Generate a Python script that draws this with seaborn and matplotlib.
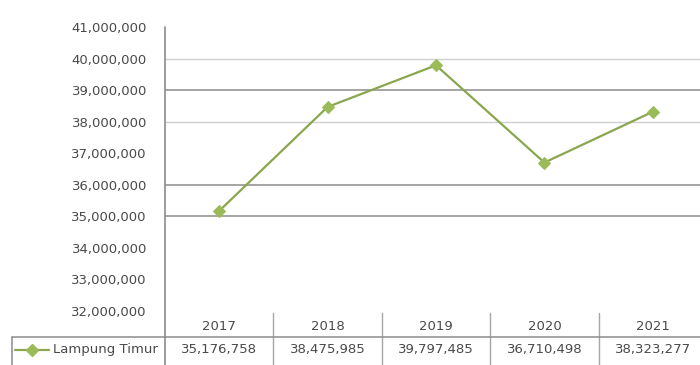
import pandas as pd
import matplotlib.pyplot as plt
from matplotlib.lines import Line2D
from matplotlib.transforms import blended_transform_factory
import seaborn as sns

# Data
years = ["2017", "2018", "2019", "2020", "2021"]
values = [35176758, 38475985, 39797485, 36710498, 38323277]
series_name = "Lampung Timur"
y_ticks = [32000000, 33000000, 34000000, 35000000, 36000000,
           37000000, 38000000, 39000000, 40000000, 41000000]
grid_dark = [35000000, 36000000, 39000000]
grid_light = [38000000, 40000000]

df = pd.DataFrame({"Tahun": years, "Nilai": values})

sns.set_style("white")
plt.rcParams["font.family"] = ["DejaVu Sans"]

W, H = 700, 365
fig = plt.figure(figsize=(W / 100, H / 100), dpi=100)
ax_left, ax_right, ax_top, ax_bot = 165, 707, 27.4, 311
ax = fig.add_axes([ax_left / W, 1 - ax_bot / H,
                   (ax_right - ax_left) / W, (ax_bot - ax_top) / H])

line_col = "#8aa64f"
mark_col = "#9BBB59"
text_col = "#4a4a4a"
table_col = "#a6a6a6"
fs = 9.5

for v in grid_dark:
    ax.axhline(v, color="#8c8c8c", lw=1.1, zorder=1)
for v in grid_light:
    ax.axhline(v, color="#d0d0d0", lw=1.0, zorder=1)

sns.lineplot(data=df, x="Tahun", y="Nilai", ax=ax, color=line_col, lw=1.6,
             marker="D", markersize=6, markerfacecolor=mark_col,
             markeredgecolor=mark_col, zorder=3)

ax.set_xlim(-0.5, 4.5)
ax.set_ylim(y_ticks[0], y_ticks[-1])
ax.set_yticks(y_ticks)
ax.set_yticklabels([f"{t:,}" for t in y_ticks], fontsize=fs, color=text_col)
ax.tick_params(axis="y", length=0, pad=13)
ax.set_xticks([])
ax.set_xlabel("")
ax.set_ylabel("")
for s in ax.spines.values():
    s.set_visible(False)

# y axis line, running down through the data table
ax.axvline(-0.5, ymin=-0.25, ymax=1, color="#8c8c8c", lw=1.2, clip_on=False)


def fy(py):
    # pixel row -> axes fraction
    return (ax_bot - py) / (ax_bot - ax_top)


trans = blended_transform_factory(ax.transData, ax.transAxes)

# data table: year header, values, cell dividers
for i, (yr, v) in enumerate(zip(years, values)):
    ax.text(i, fy(327), yr, transform=trans, ha="center", va="center",
            fontsize=fs, color=text_col, clip_on=False)
    ax.text(i, fy(349), f"{v:,}", transform=trans, ha="center", va="center",
            fontsize=fs, color=text_col, clip_on=False)
    ax.axvline(i + 0.5, ymin=fy(372), ymax=fy(313), color=table_col,
               lw=1.0, clip_on=False)

# row separator and legend cell
fig.add_artist(Line2D([12 / W, 1.0], [1 - 337 / H] * 2,
                      transform=fig.transFigure, color="#8c8c8c", lw=1.1))
fig.add_artist(Line2D([12 / W, 12 / W], [1 - 337 / H, 0],
                      transform=fig.transFigure, color="#8c8c8c", lw=1.1))
fig.add_artist(Line2D([15 / W, 49 / W], [1 - 350 / H] * 2,
                      transform=fig.transFigure, color=line_col, lw=1.6))
fig.add_artist(Line2D([32 / W], [1 - 350 / H], transform=fig.transFigure,
                      marker="D", markersize=6, color=mark_col, lw=0))
fig.text(53 / W, 1 - 350 / H, series_name, ha="left", va="center",
         fontsize=fs, color=text_col)

fig.savefig("out.png", dpi=100)
